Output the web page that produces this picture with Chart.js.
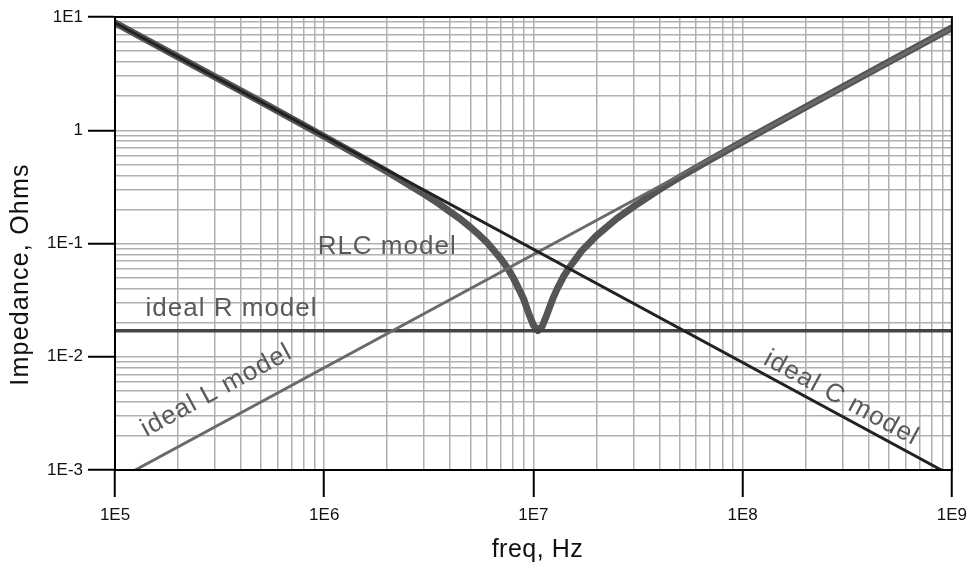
<!DOCTYPE html>
<html><head><meta charset="utf-8">
<script src="https://cdn.jsdelivr.net/npm/chart.js@4.4.1/dist/chart.umd.min.js"></script>
<style>html,body{margin:0;padding:0;background:#fff;}#wrap{width:975px;height:565px;}</style>
</head><body><div id="wrap"><canvas id="c" width="975" height="565"></canvas></div>
<script>
const FONT = "'Liberation Sans', Arial, Helvetica, sans-serif";

// axis decades and their labels
const xTickValues = [1e5, 1e6, 1e7, 1e8, 1e9];
const xTickLabels = ['1E5', '1E6', '1E7', '1E8', '1E9'];
const yTickValues = [1e-3, 1e-2, 1e-1, 1, 10];
const yTickLabels = ['1E-3', '1E-2', '1E-1', '1', '1E1'];
const xTitle = 'freq, Hz';
const yTitle = 'Impedance, Ohms';

// ideal C model (endpoints of straight line in log-log)
const capFreq = [1e5, 8.9e8];
const capZ = [8.9, 1e-3];
// ideal L model
const indFreq = [1.25e5, 1e9];
const indZ = [1e-3, 8.0];
// ideal R model
const resFreq = [1e5, 1e9];
const resZ = [0.017, 0.017];
// RLC model
const rlcFreq = [1e5, 2e5, 5e5, 1e6, 1.5e6, 2e6, 2.5e6, 3e6, 3.5e6, 4e6, 4.5e6, 5e6, 5.5e6, 6e6, 6.5e6, 7e6, 7.5e6, 8e6, 8.5e6, 9e6, 9.5e6, 1e7, 1.05e7, 1.1e7, 1.15e7, 1.2e7, 1.25e7, 1.3e7, 1.4e7, 1.5e7, 1.7e7, 2e7, 2.5e7, 3e7, 4e7, 5e7, 7e7, 1e8, 2e8, 5e8, 1e9];
const rlcZ = [8.9, 4.45, 1.78, 0.88, 0.58, 0.43, 0.336, 0.273, 0.227, 0.190, 0.163, 0.139, 0.119, 0.102, 0.086, 0.073, 0.061, 0.050, 0.040, 0.032, 0.024, 0.019, 0.017, 0.0185, 0.0226, 0.028, 0.034, 0.040, 0.052, 0.063, 0.086, 0.117, 0.166, 0.211, 0.299, 0.384, 0.549, 0.794, 1.60, 4.01, 8.03];

// in-plot labels (anchored in data coordinates)
const noteTexts = ['RLC model', 'ideal R model', 'ideal L model', 'ideal C model'];
const noteFreq = [9.3e5, 1.40e5, 1.41e5, 1.24e8];
const noteZ = [0.0816, 0.0227, 0.00196, 0.0087];

function pts(fs, zs) { return fs.map((f, i) => ({x: f, y: zs[i]})); }
function allTicks(majors) {
  const out = [];
  majors.forEach((m, i) => {
    out.push(m);
    if (i < majors.length - 1) for (let k = 2; k <= 9; k++) out.push(m * k);
  });
  return out;
}
function majorIndex(v, majors) {
  for (let i = 0; i < majors.length; i++) if (Math.abs(Math.log10(v) - Math.log10(majors[i])) < 1e-6) return i;
  return -1;
}
function setSpacing(ctx, s) { try { ctx.letterSpacing = s; } catch (e) {} }

const notesPlugin = {
  id: 'notes',
  afterDatasetsDraw(chart) {
    const {ctx, scales: {x, y}} = chart;
    const ang = (fs, zs) => Math.atan2(y.getPixelForValue(zs[1]) - y.getPixelForValue(zs[0]), x.getPixelForValue(fs[1]) - x.getPixelForValue(fs[0]));
    const angles = [0, 0, ang(indFreq, indZ), ang(capFreq, capZ)];
    ctx.save();
    ctx.fillStyle = '#5a5a5a';
    ctx.font = '26px ' + FONT;
    setSpacing(ctx, '1px');
    ctx.textAlign = 'left';
    ctx.textBaseline = 'alphabetic';
    noteTexts.forEach((t, i) => {
      ctx.save();
      ctx.translate(x.getPixelForValue(noteFreq[i]), y.getPixelForValue(noteZ[i]));
      ctx.rotate(angles[i]);
      ctx.fillText(t, 0, 0);
      ctx.restore();
    });
    ctx.restore();
  },
  afterDraw(chart) {
    const {ctx, chartArea: a} = chart;
    ctx.save();
    ctx.strokeStyle = '#000';
    ctx.lineWidth = 2;
    ctx.strokeRect(a.left, a.top, a.right - a.left, a.bottom - a.top);
    // axis titles
    ctx.fillStyle = '#111';
    ctx.font = '25px ' + FONT;
    ctx.textAlign = 'center';
    ctx.textBaseline = 'alphabetic';
    setSpacing(ctx, '0.5px');
    ctx.fillText(xTitle, (a.left + a.right) / 2 + 4, 557);
    setSpacing(ctx, '1.2px');
    ctx.translate(28, (a.top + a.bottom) / 2 + 31);
    ctx.rotate(-Math.PI / 2);
    ctx.fillText(yTitle, 0, 0);
    ctx.restore();
  }
};

const common = {showLine: true, pointRadius: 0, fill: false, borderCapStyle: 'round', borderJoinStyle: 'round', tension: 0};

new Chart(document.getElementById('c'), {
  type: 'scatter',
  data: {
    datasets: [
      Object.assign({label: 'RLC model', data: pts(rlcFreq, rlcZ), borderColor: '#555555', borderWidth: 7, order: 5}, common),
      Object.assign({label: 'ideal R model', data: pts(resFreq, resZ), borderColor: '#444444', borderWidth: 3.5, order: 4}, common),
      Object.assign({label: 'ideal L model', data: pts(indFreq, indZ), borderColor: '#6a6a6a', borderWidth: 3, order: 3}, common),
      Object.assign({label: 'ideal C model', data: pts(capFreq, capZ), borderColor: '#222222', borderWidth: 3, order: 2}, common)
    ]
  },
  options: {
    responsive: false,
    animation: false,
    devicePixelRatio: 1,
    layout: {padding: {left: 0, top: 17, right: 18, bottom: 0}},
    plugins: {legend: {display: false}, tooltip: {enabled: false}},
    scales: {
      x: {
        type: 'logarithmic', position: 'bottom', min: 1e5, max: 1e9,
        afterBuildTicks: s => { s.ticks = allTicks(xTickValues).map(v => ({value: v})); },
        afterFit: s => { s.height = 95; },
        ticks: {
          autoSkip: false, maxRotation: 0, minRotation: 0, padding: 8, color: '#111',
          font: {family: FONT, size: 17},
          callback: v => { const i = majorIndex(v, xTickValues); return i >= 0 ? xTickLabels[i] : ''; }
        },
        grid: {
          color: '#b0b0b0', lineWidth: 1.5, drawTicks: true, tickLength: 27, tickWidth: 2,
          tickColor: c => (c.tick && majorIndex(c.tick.value, xTickValues) >= 0) ? '#000' : 'rgba(0,0,0,0)'
        },
        border: {display: true, color: '#000', width: 2},
        title: {display: false}
      },
      y: {
        type: 'logarithmic', position: 'left', min: 1e-3, max: 10,
        afterBuildTicks: s => { s.ticks = allTicks(yTickValues).map(v => ({value: v})); },
        afterFit: s => { s.width = 115; },
        ticks: {
          autoSkip: false, padding: 5, color: '#111',
          font: {family: FONT, size: 17},
          callback: v => { const i = majorIndex(v, yTickValues); return i >= 0 ? yTickLabels[i] : ''; }
        },
        grid: {
          color: '#b0b0b0', lineWidth: 1.5, drawTicks: true, tickLength: 27, tickWidth: 2,
          tickColor: c => (c.tick && majorIndex(c.tick.value, yTickValues) >= 0) ? '#000' : 'rgba(0,0,0,0)'
        },
        border: {display: true, color: '#000', width: 2},
        title: {display: false}
      }
    }
  },
  plugins: [notesPlugin]
});
</script></body></html>
